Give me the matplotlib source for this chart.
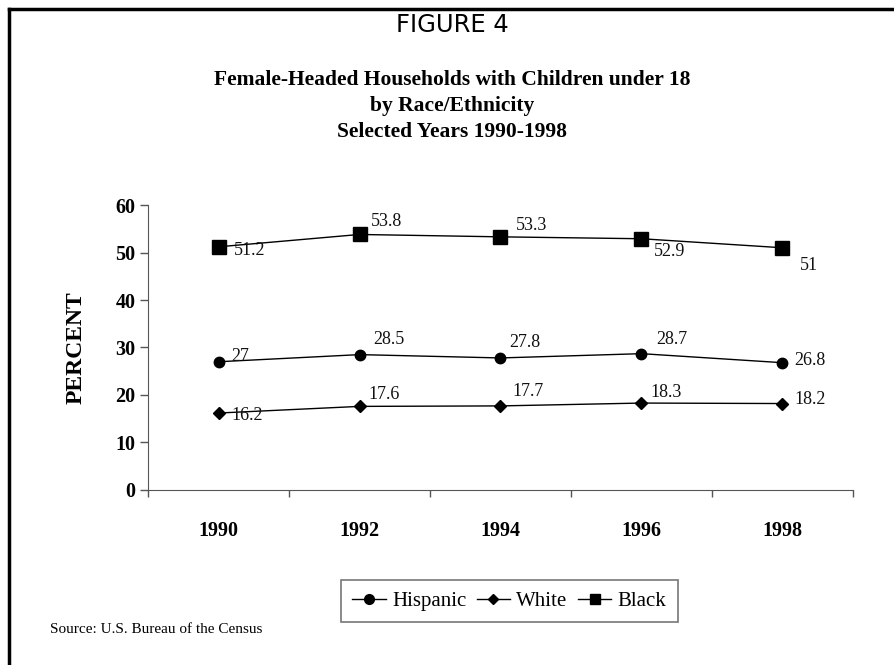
import numpy as np
import matplotlib
matplotlib.use('Agg')
import matplotlib.pyplot as plt
from matplotlib.lines import Line2D

YEARS       = ['1990', '1992', '1994', '1996', '1998']
HISPANIC    = [27, 28.5, 27.8, 28.7, 26.8]
WHITE       = [16.2, 17.6, 17.7, 18.3, 18.2]
BLACK       = [51.2, 53.8, 53.3, 52.9, 51]
Y_TICKS     = [0, 10, 20, 30, 40, 50, 60]

TITLE       = 'Female-Headed Households with Children under 18\nby Race/Ethnicity\nSelected Years 1990-1998'
SOURCE      = 'Source: U.S. Bureau of the Census'

SERIF = 'Liberation Serif'

# label offsets in pixels (dx, dy) from each point to the label's left-middle
black_off    = [(15, -4), (11, 13), (15, 11), (12, -13), (17, -18)]
hispanic_off = [(13, 5), (14, 15), (9, 15), (15, 14), (12, 2)]
white_off    = [(13, -2), (9, 12), (12, 14), (9, 11), (12, 4)]


fig = plt.figure(figsize=(8.95, 6.65), dpi=100)
ax = fig.add_axes([0.1654, 0.2632, 0.953 - 0.1654, 0.6917 - 0.2632])

x = np.arange(len(YEARS))

ax.plot(x, HISPANIC, color='black', lw=1, marker='o', ms=7.5, label='Hispanic')
ax.plot(x, WHITE, color='black', lw=1, marker='D', ms=6, label='White')
ax.plot(x, BLACK, color='black', lw=1, marker='s', ms=9.5, label='Black')

for vals, offs in [(BLACK, black_off), (HISPANIC, hispanic_off), (WHITE, white_off)]:
    for i in range(len(vals)):
        ax.annotate('%g' % vals[i], (x[i], vals[i]), xytext=offs[i],
                    textcoords='offset pixels', ha='left', va='center',
                    fontsize=13, family=SERIF, color='#111111')

ax.set_xlim(-0.5, len(YEARS) - 0.5)
ax.set_ylim(0, 60)
ax.set_yticks(Y_TICKS)
ax.set_yticklabels([str(t) for t in Y_TICKS], family=SERIF, fontweight='bold', fontsize=14.5)

# category axis: ticks at boundaries, labels at centres
ax.set_xticks(np.arange(len(YEARS) + 1) - 0.5)
ax.set_xticklabels([])
ax.set_xticks(x, minor=True)
ax.set_xticklabels(YEARS, minor=True, family=SERIF, fontweight='bold', fontsize=14.5)
ax.tick_params(axis='x', which='minor', length=0, pad=22)
ax.tick_params(axis='x', which='major', length=5, width=1, direction='out', color='#555555')
ax.tick_params(axis='y', length=6, width=1, pad=3, color='#555555')

ax.spines['top'].set_visible(False)
ax.spines['right'].set_visible(False)
ax.spines['left'].set_color('#555555')
ax.spines['bottom'].set_color('#555555')

ax.set_ylabel('PERCENT', family=SERIF, fontweight='bold', fontsize=17, labelpad=21)

fig.text(0.505, 0.962, 'FIGURE 4', ha='center', va='center', fontsize=17.5, family='DejaVu Sans')
fig.text(0.505, 0.8406, TITLE, ha='center', va='center', fontsize=15.5, family=SERIF,
         fontweight='bold', linespacing=1.42)
fig.text(0.056, 0.054, SOURCE, ha='left', va='center', fontsize=11, family=SERIF)

# legend box under the plot
handles = [Line2D([], [], color='black', lw=1, marker='o', ms=7),
           Line2D([], [], color='black', lw=1, marker='D', ms=5.5),
           Line2D([], [], color='black', lw=1, marker='s', ms=7)]
leg = fig.legend(handles, ['Hispanic', 'White', 'Black'], loc='center', bbox_to_anchor=(0.569, 0.096),
                 ncol=3, frameon=True, fancybox=False, handlelength=1.6, handletextpad=0.3,
                 columnspacing=0.5, borderpad=0.55, borderaxespad=0, prop={'family': SERIF, 'size': 15})
leg.get_frame().set_edgecolor('#555555')
leg.get_frame().set_linewidth(1.2)

# page frame: left and top edges
fig.add_artist(Line2D([0.010, 0.010], [0, 0.987], color='black', lw=2.5, transform=fig.transFigure))
fig.add_artist(Line2D([0.010, 1.0], [0.987, 0.987], color='black', lw=2.5, transform=fig.transFigure))

fig.savefig('out.png', dpi=100)
